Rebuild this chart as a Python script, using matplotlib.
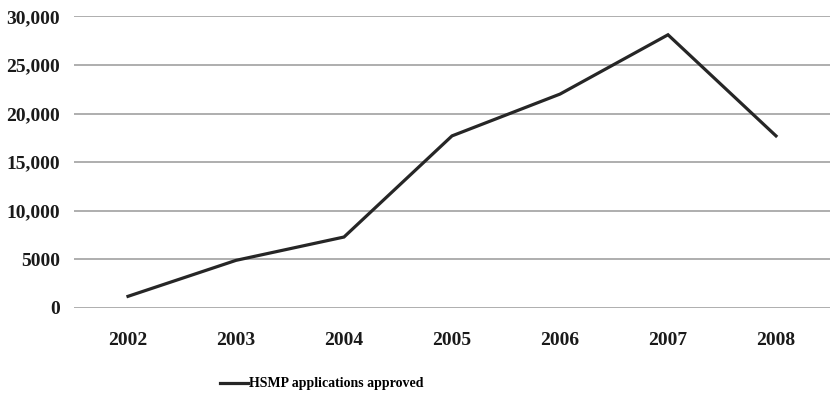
import matplotlib.pyplot as plt

years = ['2002', '2003', '2004', '2005', '2006', '2007', '2008']
approved = [1200, 4900, 7300, 17700, 22000, 28100, 17700]
y_ticks = [0, 5000, 10000, 15000, 20000, 25000, 30000]
y_labels = ['0', '5000', '10,000', '15,000', '20,000', '25,000', '30,000']

plt.rcParams['font.family'] = ['Liberation Serif', 'DejaVu Serif']
plt.rcParams['font.weight'] = 'bold'

fig = plt.figure(figsize=(8.3, 3.99), dpi=100)
ax = fig.add_axes([74 / 830, 1 - 308 / 399, 1 - 74 / 830, (308 - 16.3) / 399])

x = range(len(years))
ax.plot(x, approved, color='#262626', linewidth=2.3, solid_joinstyle='miter',
        label='HSMP applications approved')

ax.set_xlim(-0.5, len(years) - 0.5)
ax.set_ylim(0, 30000)
ax.set_xticks(list(x))
ax.set_xticklabels(years)
ax.set_yticks(y_ticks)
ax.set_yticklabels(y_labels)
ax.tick_params(length=0, labelsize=14, colors='#1a1a1a')
ax.tick_params(axis='x', pad=17)
ax.tick_params(axis='y', pad=10)
ax.grid(axis='y', color='#a8a8a8', linewidth=1.3)
ax.set_axisbelow(True)
for s in ax.spines.values():
    s.set_visible(False)

fig.legend(loc='center', bbox_to_anchor=(322 / 830, 1 - 384 / 399), frameon=False,
           fontsize=10, handlelength=2.0, handletextpad=0.1)

fig.savefig('out.png', dpi=100)
